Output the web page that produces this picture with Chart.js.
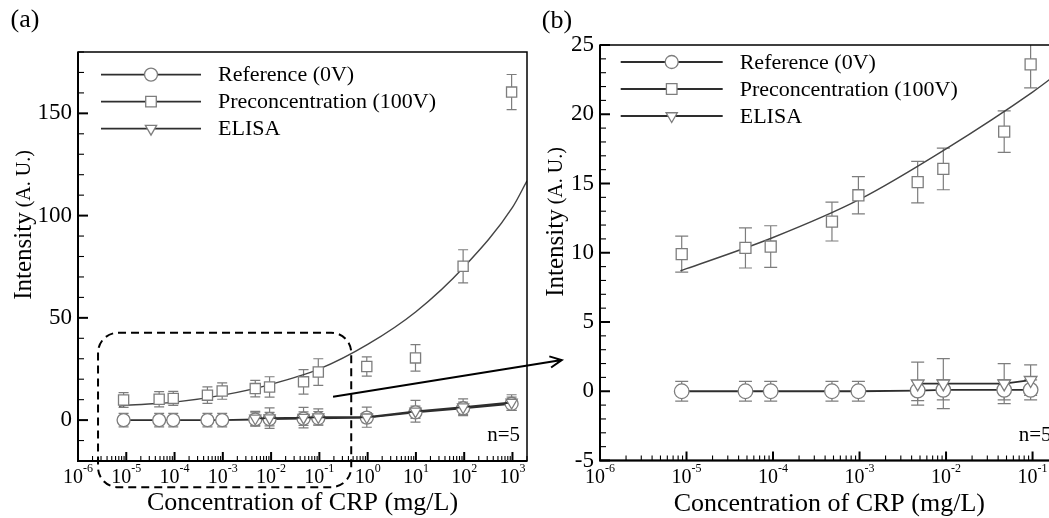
<!DOCTYPE html>
<html>
<head>
<meta charset="utf-8">
<script src="https://cdn.jsdelivr.net/npm/chart.js@4.4.1/dist/chart.umd.min.js"></script>
<style>
  html, body { margin: 0; padding: 0; background: #fff; overflow: hidden; }
  #wrap { position: relative; width: 1049px; height: 518px; overflow: hidden; }
  #chartA { position: absolute; left: 0; top: 0; z-index: 2; }
  #chartB { position: absolute; left: 520px; top: 0; z-index: 1; }
</style>
</head>
<body>
<div id="wrap">
  <canvas id="chartB" width="549" height="518"></canvas>
  <canvas id="chartA" width="600" height="518"></canvas>
</div>
<script>
const serif = '"Liberation Serif", "Times New Roman", serif';
const markerGray = "#7d7d7d";
const lineDark = "#2e2e2e";

// concentrations (mg/L)
const concSmall = [8.8e-6, 4.8e-5, 9.4e-5, 4.8e-4, 9.7e-4, 4.7e-3, 9.3e-3, 4.7e-2, 9.5e-2];
const concLarge = [0.96, 9.8, 95, 960];
const concA = concSmall.concat(concLarge);
const elisaConcA = concA.slice(5);
const elisaConcB = concSmall.slice(5);

// panel (a)
const refA = [0, 0, 0, 0, 0, 0.3, 0.5, 0.7, 0.9, 1.2, 3.8, 5.8, 8.0];
const refErrA = [3.3, 3.3, 3.3, 3.3, 3.3, 3.3, 3.3, 3.3, 3.3, 2.5, 3, 3, 3.2];
const preA = [9.8, 10.2, 10.6, 12.2, 14.2, 15.4, 16.2, 18.7, 23.5, 26.2, 30.4, 75.2, 160.4];
const preErrA = [3.6, 3.7, 3.4, 4, 4, 4, 5, 6, 6.5, 4.7, 6.5, 8.1, 8.6];
const elisaA = [0.8, 1.0, 1.2, 1.5, 1.4, 4.3, 6.3, 8.6];
const elisaErrA = [3.5, 5, 5, 4, 4.9, 5.3, 4.1, 3.8];
const fitConcA = [7.1e-6, 1e-5, 1e-4, 1e-3, 1e-2, 1e-1, 1, 10, 100, 1000, 2000];
const fitA = [6.8, 7.2, 8.8, 12.2, 17.5, 25, 37, 53, 75, 104, 117];

// panel (b)
const refB = [0, 0, 0, 0, 0, 0.05, 0.1, 0.1, 0.1];
const refErrB = [0.72, 0.72, 0.72, 0.72, 0.72, 0.72, 0.72, 0.72, 0.72];
const preB = [9.9, 10.35, 10.45, 12.25, 14.15, 15.1, 16.05, 18.75, 23.6];
const preErrB = [1.3, 1.45, 1.5, 1.4, 1.35, 1.5, 1.5, 1.5, 1.7];
const elisaB = [0.55, 0.55, 0.55, 0.8];
const elisaErrB = [1.55, 1.8, 1.45, 1.1];
const fitConcB = [8.5e-6, 1e-5, 1e-4, 1e-3, 1e-2, 1e-1, 0.2];
const fitB = [8.7, 8.85, 11.1, 13.85, 17.5, 21.6, 23.0];

// tick labels
const xExpA = [-6, -5, -4, -3, -2, -1, 0, 1, 2, 3];
const xExpB = [-6, -5, -4, -3, -2, -1];
const yTickA = [0, 50, 100, 150];
const yTickB = [-5, 0, 5, 10, 15, 20, 25];

const seriesNames = ["Reference (0V)", "Preconcentration (100V)", "ELISA"];

function points(xs, ys) {
    return xs.map((v, i) => ({ x: v, y: ys[i] }));
}

const decor = {
    id: "decor",
    beforeDatasetsDraw(chart, args, o) {
        const { ctx, chartArea: a } = chart;
        const x = chart.scales.x, y = chart.scales.y;
        ctx.save();
        ctx.beginPath();
        ctx.rect(a.left, a.top, a.right - a.left, a.bottom - a.top);
        ctx.clip();
        ctx.strokeStyle = markerGray;
        ctx.lineWidth = 1.2;
        for (let ds of chart.data.datasets) {
            if (!ds.errors) continue;
            ds.data.forEach((p, i) => {
                const px = x.getPixelForValue(p.x);
                const top = y.getPixelForValue(p.y + ds.errors[i]);
                const bot = y.getPixelForValue(p.y - ds.errors[i]);
                ctx.beginPath();
                ctx.moveTo(px, top); ctx.lineTo(px, bot);
                ctx.moveTo(px - o.cap, top); ctx.lineTo(px + o.cap, top);
                ctx.moveTo(px - o.cap, bot); ctx.lineTo(px + o.cap, bot);
                ctx.stroke();
            });
        }
        ctx.restore();
    },
    afterDraw(chart, args, o) {
        const { ctx, chartArea: a } = chart;
        const x = chart.scales.x, y = chart.scales.y;
        ctx.save();

        // frame
        ctx.strokeStyle = "#000";
        ctx.lineWidth = 1.5;
        ctx.strokeRect(a.left, a.top, a.right - a.left, a.bottom - a.top);
        ctx.lineWidth = 2;
        ctx.beginPath();
        ctx.moveTo(a.left, a.top); ctx.lineTo(a.left, a.bottom); ctx.lineTo(a.right, a.bottom);
        ctx.stroke();

        // x ticks (inward)
        const k0 = Math.floor(Math.log10(x.min)), k1 = Math.floor(Math.log10(x.max));
        for (let k = k0; k <= k1; k++) {
            for (let m = 1; m < 10; m++) {
                const v = m * Math.pow(10, k);
                if (v < x.min * 0.999 || v > x.max * 1.001) continue;
                const px = x.getPixelForValue(v);
                ctx.lineWidth = m === 1 ? 2 : 1.1;
                ctx.beginPath();
                ctx.moveTo(px, a.bottom);
                ctx.lineTo(px, a.bottom - (m === 1 ? 9 : 5));
                ctx.stroke();
            }
        }
        // y ticks (inward)
        for (let v = y.min; v <= y.max + 1e-9; v += o.yMinor) {
            const major = Math.abs(v / o.yMajor - Math.round(v / o.yMajor)) < 1e-6;
            const py = y.getPixelForValue(v);
            ctx.lineWidth = major ? 2 : 1.1;
            ctx.beginPath();
            ctx.moveTo(a.left, py);
            ctx.lineTo(a.left + (major ? 10 : 6), py);
            ctx.stroke();
        }

        // x tick labels 10^k
        ctx.fillStyle = "#000";
        ctx.textBaseline = "alphabetic";
        ctx.textAlign = "left";
        for (let k of o.xExp) {
            const px = x.getPixelForValue(Math.pow(10, k));
            ctx.font = `20px ${serif}`;
            const w1 = ctx.measureText("10").width;
            ctx.font = `12px ${serif}`;
            const w2 = ctx.measureText(String(k)).width;
            const sx = px - (w1 + w2) / 2;
            ctx.font = `20px ${serif}`;
            ctx.fillText("10", sx, a.bottom + 22);
            ctx.font = `12px ${serif}`;
            ctx.fillText(String(k), sx + w1, a.bottom + 11);
        }

        // axis titles
        ctx.textAlign = "center";
        ctx.textBaseline = "middle";
        ctx.font = `26px ${serif}`;
        ctx.fillText("Concentration of CRP (mg/L)", (a.left + a.right) / 2, a.bottom + o.xTitleDy);

        ctx.save();
        ctx.translate(o.yTitle[0], o.yTitle[1]);
        ctx.rotate(-Math.PI / 2);
        ctx.textAlign = "left";
        ctx.font = `25px ${serif}`;
        const t1 = ctx.measureText("Intensity").width;
        ctx.font = `20px ${serif}`;
        const t2 = ctx.measureText(" (A. U.)").width;
        ctx.font = `25px ${serif}`;
        ctx.fillText("Intensity", -(t1 + t2) / 2, 0);
        ctx.font = `20px ${serif}`;
        ctx.fillText(" (A. U.)", -(t1 + t2) / 2 + t1, 1);
        ctx.restore();

        // panel label and n=5
        ctx.font = `26px ${serif}`;
        ctx.fillText(o.panel, o.panelPos[0], o.panelPos[1]);
        ctx.textAlign = "right";
        ctx.font = `21px ${serif}`;
        ctx.fillText("n=5", a.right - 7, 435);

        // legend
        const lx = a.left + o.legend.x;
        chart.data.datasets.filter(ds => ds.legendRow !== undefined).forEach(ds => {
            const ly = a.top + o.legend.y + ds.legendRow * 27;
            ctx.strokeStyle = lineDark;
            ctx.lineWidth = 1.8;
            ctx.beginPath();
            ctx.moveTo(lx, ly); ctx.lineTo(lx + o.legend.len, ly);
            ctx.stroke();
            ctx.fillStyle = "#fff";
            ctx.strokeStyle = markerGray;
            ctx.lineWidth = 1.3;
            Chart.helpers.drawPoint(ctx, {
                pointStyle: ds.pointStyle,
                radius: ds.pointStyle === "rect" ? o.legend.r * 1.15 : o.legend.r,
                rotation: ds.pointRotation || 0,
                borderWidth: 1.3
            }, lx + o.legend.len / 2, ly);
            ctx.fillStyle = "#000";
            ctx.textAlign = "left";
            ctx.font = `22px ${serif}`;
            ctx.fillText(seriesNames[ds.legendRow], lx + o.legend.len + 17, ly + 1);
        });

        // zoom box
        if (o.box) {
            const bx0 = x.getPixelForValue(o.box.x0), bx1 = x.getPixelForValue(o.box.x1);
            const by0 = y.getPixelForValue(o.box.y1), by1 = y.getPixelForValue(o.box.y0);
            ctx.strokeStyle = "#000";
            ctx.lineWidth = 2;
            ctx.setLineDash([8, 5]);
            ctx.beginPath();
            ctx.roundRect(bx0, by0, bx1 - bx0, by1 - by0, 20);
            ctx.stroke();
            ctx.setLineDash([]);
        }

        // arrow to panel (b)
        if (o.arrow) {
            const ax0 = x.getPixelForValue(o.arrow.x0), ay0 = y.getPixelForValue(o.arrow.y0);
            const ax1 = x.getPixelForValue(o.arrow.x1), ay1 = y.getPixelForValue(o.arrow.y1);
            const ang = Math.atan2(ay1 - ay0, ax1 - ax0);
            ctx.strokeStyle = "#000";
            ctx.lineWidth = 2;
            ctx.beginPath();
            ctx.moveTo(ax0, ay0); ctx.lineTo(ax1, ay1);
            ctx.moveTo(ax1 - 13 * Math.cos(ang - 0.45), ay1 - 13 * Math.sin(ang - 0.45));
            ctx.lineTo(ax1, ay1);
            ctx.lineTo(ax1 - 13 * Math.cos(ang + 0.45), ay1 - 13 * Math.sin(ang + 0.45));
            ctx.stroke();
        }
        ctx.restore();
    }
};

function createPanel(canvas, p) {
    const markerBase = {
        pointBackgroundColor: "#fff",
        pointBorderColor: markerGray,
        pointBorderWidth: 1.3,
        borderColor: lineDark,
        borderWidth: 1.8,
        fill: false
    };
    const datasets = [
        {
            data: points(p.fitConc, p.fit),
            borderColor: "#444",
            borderWidth: 1.4,
            pointRadius: 0,
            cubicInterpolationMode: "monotone",
            order: 3
        },
        Object.assign({}, markerBase, {
            data: points(p.conc, p.ref),
            errors: p.refErr,
            pointStyle: "circle",
            pointRadius: p.r,
            legendRow: 0,
            order: 2
        }),
        Object.assign({}, markerBase, {
            data: points(p.conc, p.pre),
            errors: p.preErr,
            pointStyle: "rect",
            pointRadius: p.rectR,
            showLine: false,
            legendRow: 1,
            order: 0
        }),
        Object.assign({}, markerBase, {
            data: points(p.elisaConc, p.elisa),
            errors: p.elisaErr,
            pointStyle: "triangle",
            pointRotation: 180,
            pointRadius: p.r,
            legendRow: 2,
            order: 1
        })
    ];

    return new Chart(canvas, {
        type: "line",
        data: { datasets: datasets },
        options: {
            responsive: false,
            animation: false,
            events: [],
            layout: { padding: { top: p.top, right: p.right, left: 0, bottom: 0 } },
            plugins: {
                legend: { display: false },
                tooltip: { enabled: false },
                decor: p.decor
            },
            scales: {
                x: {
                    type: "logarithmic",
                    min: p.xMin,
                    max: p.xMax,
                    afterFit: s => { s.height = p.xHeight; },
                    ticks: { display: false },
                    grid: { display: false, drawTicks: false },
                    border: { display: false }
                },
                y: {
                    type: "linear",
                    min: p.yMin,
                    max: p.yMax,
                    afterFit: s => { s.width = p.yWidth; },
                    afterBuildTicks: s => { s.ticks = p.yTicks.map(v => ({ value: v })); },
                    ticks: {
                        padding: 6,
                        color: "#000",
                        font: { family: serif, size: 23 },
                        callback: v => v
                    },
                    grid: { display: false, drawTicks: false },
                    border: { display: false }
                }
            }
        },
        plugins: [decor]
    });
}

createPanel(document.querySelector("#chartA"), {
    conc: concA, elisaConc: elisaConcA,
    ref: refA, refErr: refErrA, pre: preA, preErr: preErrA,
    elisa: elisaA, elisaErr: elisaErrA, fitConc: fitConcA, fit: fitA,
    r: 6.5, rectR: 7.2, yTicks: yTickA,
    xMin: 1e-6, xMax: 2000, yMin: -20, yMax: 180,
    top: 52, right: 73, xHeight: 57, yWidth: 78,
    decor: {
        cap: 5, yMinor: 10, yMajor: 50, xExp: xExpA,
        xTitleDy: 42, yTitle: [24, 225], panel: "(a)", panelPos: [25, 20],
        legend: { x: 23, y: 22.6, len: 100, r: 6.5 },
        box: { x0: 2.6e-6, x1: 0.457, y0: -32.8, y1: 42.7 },
        arrow: { x0: 0.192, y0: 11.4, x1: 10500, y1: 29.35 }
    }
});

createPanel(document.querySelector("#chartB"), {
    conc: concSmall, elisaConc: elisaConcB,
    ref: refB, refErr: refErrB, pre: preB, preErr: preErrB,
    elisa: elisaB, elisaErr: elisaErrB, fitConc: fitConcB, fit: fitB,
    r: 7.3, rectR: 7.8, yTicks: yTickB,
    xMin: 1e-6, xMax: 0.2, yMin: -5, yMax: 25,
    top: 45, right: 10.4, xHeight: 57.5, yWidth: 80,
    decor: {
        cap: 6.5, yMinor: 1, yMajor: 5, xExp: xExpB,
        xTitleDy: 44, yTitle: [36, 222], panel: "(b)", panelPos: [37, 21],
        legend: { x: 20.7, y: 17, len: 102, r: 6.5 }
    }
});
</script>
</body>
</html>
